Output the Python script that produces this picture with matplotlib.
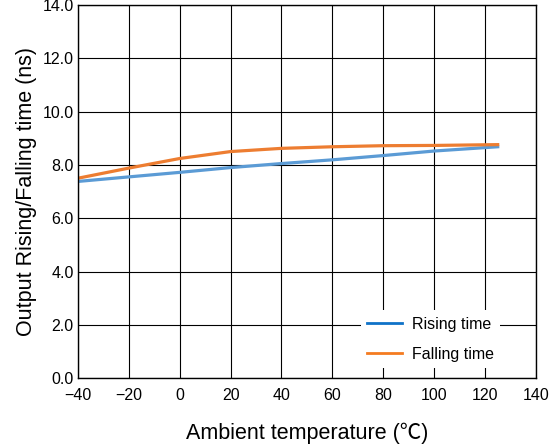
import matplotlib.pyplot as plt
from matplotlib.lines import Line2D

plt.rcParams['font.family'] = ['Liberation Sans', 'Noto Sans CJK JP', 'DejaVu Sans']

temp = [-40, -20, 0, 20, 40, 60, 80, 100, 125]
rising = [7.38, 7.55, 7.72, 7.9, 8.05, 8.19, 8.35, 8.52, 8.68]
falling = [7.5, 7.88, 8.24, 8.5, 8.62, 8.68, 8.72, 8.73, 8.76]

x_ticks = [-40, -20, 0, 20, 40, 60, 80, 100, 120, 140]
y_ticks = [0, 2, 4, 6, 8, 10, 12, 14]

fig = plt.figure(figsize=(5.53, 4.46), dpi=100)
ax = fig.add_axes([0.141, 0.152, 0.828, 0.837])

ax.plot(temp, rising, color='#5b9bd5', linewidth=2.3)
ax.plot(temp, falling, color='#ed7d31', linewidth=2.3)

ax.set_xlim(-40, 140)
ax.set_ylim(0, 14)
ax.set_xticks(x_ticks)
ax.set_yticks(y_ticks)
ax.set_yticklabels([f'{v:.1f}' for v in y_ticks])
ax.tick_params(length=0, labelsize=11.5)
ax.tick_params(axis='x', pad=7)
ax.tick_params(axis='y', pad=3)
ax.grid(True, color='black', linewidth=0.8)
ax.set_axisbelow(True)
for s in ax.spines.values():
    s.set_linewidth(1.0)

ax.set_xlabel('Ambient temperature (℃)', fontsize=15.5, labelpad=14)
ax.set_ylabel('Output Rising/Falling time (ns)', fontsize=15.5, labelpad=4)

# legend lines are a bit darker than the plot lines in the original
handles = [Line2D([], [], color='#0f72c8', linewidth=2.0),
           Line2D([], [], color='#f47b20', linewidth=2.0)]
leg = ax.legend(handles, ['Rising time', 'Falling time'], loc='lower right',
                bbox_to_anchor=(0.94, 0.005), frameon=True, fontsize=11.5,
                handlelength=2.2, handletextpad=0.6, labelspacing=0.95,
                borderpad=0.4)
leg.get_frame().set_facecolor('white')
leg.get_frame().set_edgecolor('none')
leg.get_frame().set_alpha(1)

fig.savefig('out.png', dpi=100)
